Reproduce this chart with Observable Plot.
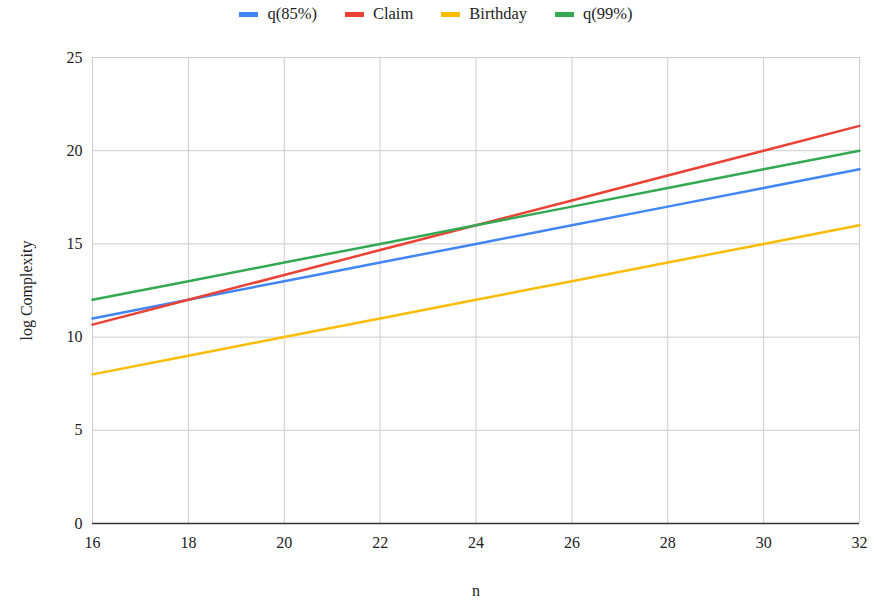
<!DOCTYPE html>
<html><head><meta charset="utf-8">
<script src="https://cdn.jsdelivr.net/npm/d3@7"></script>
<script src="https://cdn.jsdelivr.net/npm/@observablehq/plot@0.6"></script>
<style>
body{margin:0;background:#fff;font-family:"Liberation Serif",serif;}
#legend{height:28px;display:flex;justify-content:center;align-items:center;gap:28px;font-size:16.5px;color:#222;box-sizing:border-box;font-family:"Liberation Serif",serif}
#legend span.sw{display:inline-block;width:19px;height:5px;margin-right:9px;vertical-align:middle;position:relative;top:-1px}
</style></head>
<body>
<div id="legend"></div>
<div id="chart"></div>
<script>
const nValues = [16, 18, 20, 22, 24, 26, 28, 30, 32];
const q85 = [11, 12, 13, 14, 15, 16, 17, 18, 19];
const claim = [10.67, 12, 13.33, 14.67, 16, 17.33, 18.67, 20, 21.33];
const birthday = [8, 9, 10, 11, 12, 13, 14, 15, 16];
const q99 = [12, 13, 14, 15, 16, 17, 18, 19, 20];
const seriesNames = ["q(85%)", "Claim", "Birthday", "q(99%)"];
const seriesColors = ["#4285F4", "#EA4335", "#FBBC04", "#34A853"];
const xTicks = [16, 18, 20, 22, 24, 26, 28, 30, 32];
const yTicks = [0, 5, 10, 15, 20, 25];

const seriesValues = [q85, claim, birthday, q99];
const rows = [];
seriesNames.forEach((s, i) => nValues.forEach((n, j) => rows.push({series: s, n, v: seriesValues[i][j]})));

const leg = document.getElementById("legend");
seriesNames.forEach((s, i) => {
  const d = document.createElement("div");
  d.innerHTML = `<span class="sw" style="background:${seriesColors[i]}"></span>${s}`;
  leg.appendChild(d);
});

const chart = Plot.plot({
  width: 872, height: 575,
  marginLeft: 92, marginRight: 13, marginTop: 29, marginBottom: 80,
  style: {fontFamily: '"Liberation Serif", serif', fontSize: "16px", color: "#222"},
  x: {domain: [16, 32], ticks: xTicks, tickSize: 0, tickPadding: 13, label: "n", labelAnchor: "center", labelOffset: 72, labelArrow: "none"},
  y: {domain: [0, 25], ticks: yTicks, tickSize: 0, tickPadding: 10, label: "log Complexity", labelAnchor: "center", labelOffset: 72, labelArrow: "none"},
  color: {domain: seriesNames, range: seriesColors},
  marks: [
    Plot.gridX(xTicks, {stroke: "#cccccc", strokeOpacity: 1}),
    Plot.gridY(yTicks, {stroke: "#cccccc", strokeOpacity: 1}),
    Plot.line(rows, {x: "n", y: "v", z: "series", stroke: "series", strokeWidth: 2.5}),
    Plot.ruleY([0], {stroke: "#333", strokeWidth: 1.5})
  ]
});
document.getElementById("chart").appendChild(chart);
</script>
</body></html>
